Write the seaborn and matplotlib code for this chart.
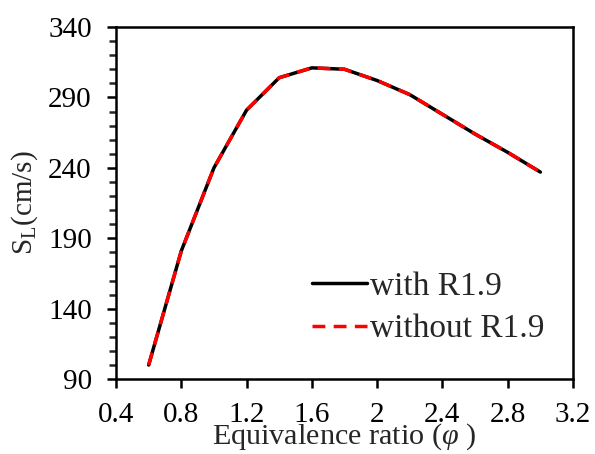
import matplotlib
matplotlib.use("Agg")
import matplotlib.pyplot as plt
import seaborn as sns
import pandas as pd
from matplotlib.ticker import MultipleLocator

phi = [0.6, 0.8, 1.0, 1.2, 1.4, 1.6, 1.8, 2.0, 2.2, 2.4, 2.6, 2.8, 3.0]
with_r19 = [100, 181, 240, 281, 304, 311, 310, 302, 292, 278, 264, 251, 237]
without_r19 = [100, 181, 240, 281, 304, 311, 310, 302, 292, 278, 264, 251, 237]
series_names = ["with R1.9", "without R1.9"]
x_ticks = [0.4, 0.8, 1.2, 1.6, 2.0, 2.4, 2.8, 3.2]
x_tick_labels = ["0.4", "0.8", "1.2", "1.6", "2", "2.4", "2.8", "3.2"]
y_ticks = [90, 140, 190, 240, 290, 340]

sns.set_style("white")
plt.rcParams["font.family"] = ["Liberation Serif", "DejaVu Serif"]
plt.rcParams["mathtext.fontset"] = "custom"
plt.rcParams["mathtext.rm"] = "Liberation Serif"
plt.rcParams["mathtext.it"] = "Liberation Serif:italic"

df = pd.DataFrame({
    "phi": phi * 2,
    "SL": with_r19 + without_r19,
    "series": [series_names[0]] * len(phi) + [series_names[1]] * len(phi),
})

fig = plt.figure(figsize=(5.95, 4.54), dpi=100)
ax = fig.add_axes([0.195, 0.165, 0.768, 0.7755])

sns.lineplot(data=df[df.series == series_names[0]], x="phi", y="SL", ax=ax,
             color="black", lw=2.5, label=series_names[0])
sns.lineplot(data=df[df.series == series_names[1]], x="phi", y="SL", ax=ax,
             color="red", lw=2.5, linestyle=(0, (3.7, 2.4)), label=series_names[1])

ax.set_xlim(0.4, 3.2)
ax.set_ylim(90, 340)
ax.set_xticks(x_ticks)
ax.set_xticklabels(x_tick_labels)
ax.set_yticks(y_ticks)
ax.yaxis.set_minor_locator(MultipleLocator(10))

for s in ax.spines.values():
    s.set_linewidth(1.8)
    s.set_color("black")

ax.tick_params(axis="both", which="major", direction="out", length=6.5, width=1.8,
               labelsize=21, colors="black", left=True, bottom=True)
ax.tick_params(axis="y", which="minor", direction="out", length=5, width=1.8, left=True)
ax.tick_params(axis="x", which="major", pad=10)
ax.tick_params(axis="y", which="major", pad=11)

ax.set_xlabel(r"Equivalence ratio ($\varphi$ )", fontsize=21.7, labelpad=-5)
ax.set_ylabel(r"S$_\mathrm{L}$(cm/s)", fontsize=21, labelpad=6)

leg = ax.legend(loc="upper left", bbox_to_anchor=(0.429, 0.306), frameon=False,
                fontsize=24, handlelength=1.65, handletextpad=0.1, labelspacing=0.36,
                borderpad=0, borderaxespad=0)

fig.savefig("out.png", dpi=100)
